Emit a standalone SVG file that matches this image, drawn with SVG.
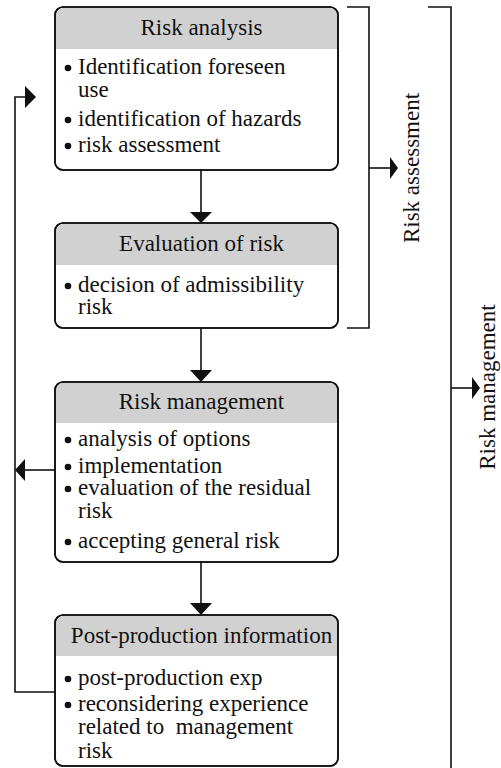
<svg xmlns="http://www.w3.org/2000/svg" width="501" height="768" viewBox="0 0 501 768">
<style>
text{font-family:"Liberation Serif","Times New Roman",serif;font-size:23px;fill:#111}
.hd{text-anchor:middle}
.box{fill:#fff;stroke:#111;stroke-width:1.6}
.frame{fill:none;stroke:#111;stroke-width:1.6}
.hdr{fill:#d1d1d1;stroke:none}
.ln{fill:none;stroke:#111;stroke-width:1.6}
.ah{fill:#111;stroke:none}
.dot{fill:#111}
</style>
<rect width="501" height="768" fill="#fff"/>
<g id="connectors">
<path class="ln" d="M201,170V213"/>
<polygon class="ah" points="190,212 212,212 201,223"/>
<path class="ln" d="M201,328V371"/>
<polygon class="ah" points="190,370 212,370 201,382"/>
<path class="ln" d="M201,562V604"/>
<polygon class="ah" points="190,603 212,603 201,615"/>
<path class="ln" d="M55,692H15V97H26"/>
<polygon class="ah" points="25,86 25,108 36,97"/>
<path class="ln" d="M55,470H24"/>
<polygon class="ah" points="25,459 25,481 15,470"/>
<path class="ln" d="M347,7H369V328H347"/>
<path class="ln" d="M369,168H391"/>
<polygon class="ah" points="390,157 390,179 398,168"/>
<path class="ln" d="M428,7H451V768"/>
<path class="ln" d="M451,388H473"/>
<polygon class="ah" points="472,377 472,399 480,388"/>
</g>
<g id="label-risk-assessment"><text transform="translate(419,168) rotate(-90)" class="hd">Risk assessment</text></g>
<g id="label-risk-management"><text transform="translate(495,387) rotate(-90)" class="hd">Risk management</text></g>
<g id="node-risk-analysis">
<rect class="box" x="55" y="7" width="283" height="163" rx="8"/>
<path class="hdr" d="M56,49V15a7,7 0 0 1 7,-7H330a7,7 0 0 1 7,7V49Z"/>
<rect class="frame" x="55" y="7" width="283" height="163" rx="8"/>
<text class="hd" x="201.5" y="35">Risk analysis</text>
<circle class="dot" cx="68" cy="68" r="3.3"/><text x="78" y="74">Identification foreseen</text>
<text x="78" y="97">use</text>
<circle class="dot" cx="68" cy="120" r="3.3"/><text x="78" y="126">identification of hazards</text>
<circle class="dot" cx="68" cy="146" r="3.3"/><text x="78" y="152">risk assessment</text>
</g>
<g id="node-evaluation">
<rect class="box" x="55" y="223" width="283" height="105" rx="8"/>
<path class="hdr" d="M56,265V231a7,7 0 0 1 7,-7H330a7,7 0 0 1 7,7V265Z"/>
<rect class="frame" x="55" y="223" width="283" height="105" rx="8"/>
<text class="hd" x="201.5" y="251">Evaluation of risk</text>
<circle class="dot" cx="68" cy="286" r="3.3"/><text x="78" y="292">decision of admissibility</text>
<text x="78" y="314">risk</text>
</g>
<g id="node-risk-management">
<rect class="box" x="55" y="382" width="283" height="180" rx="8"/>
<path class="hdr" d="M56,423V390a7,7 0 0 1 7,-7H330a7,7 0 0 1 7,7V423Z"/>
<rect class="frame" x="55" y="382" width="283" height="180" rx="8"/>
<text class="hd" x="201.5" y="409">Risk management</text>
<circle class="dot" cx="68" cy="440" r="3.3"/><text x="78" y="446">analysis of options</text>
<circle class="dot" cx="68" cy="467" r="3.3"/><text x="78" y="473">implementation</text>
<circle class="dot" cx="68" cy="489" r="3.3"/><text x="78" y="495">evaluation of the residual</text>
<text x="78" y="518">risk</text>
<circle class="dot" cx="68" cy="542" r="3.3"/><text x="78" y="548">accepting general risk</text>
</g>
<g id="node-post-production">
<rect class="box" x="55" y="615" width="283" height="151" rx="8"/>
<path class="hdr" d="M56,656V623a7,7 0 0 1 7,-7H330a7,7 0 0 1 7,7V656Z"/>
<rect class="frame" x="55" y="615" width="283" height="151" rx="8"/>
<text class="hd" x="201.5" y="643">Post-production information</text>
<circle class="dot" cx="68" cy="679" r="3.3"/><text x="78" y="685">post-production exp</text>
<circle class="dot" cx="68" cy="705" r="3.3"/><text x="78" y="711">reconsidering experience</text>
<text x="78" y="734" xml:space="preserve">related to  management</text>
<text x="78" y="758">risk</text>
</g>
</svg>
